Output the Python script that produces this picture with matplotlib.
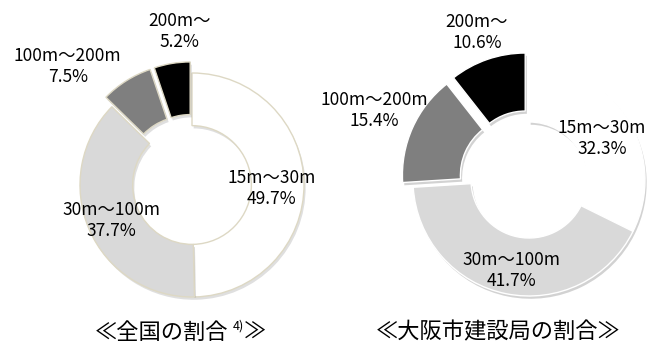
import numpy as np
import matplotlib
matplotlib.use("Agg")
import matplotlib.pyplot as plt
import matplotlib.patheffects as pe

plt.rcParams['font.family'] = ['Noto Sans CJK JP', 'DejaVu Sans']

# Height classes (clockwise from 12 o'clock)
categories = ["15m〜30m", "30m〜100m", "100m〜200m", "200m〜"]
national_pct = [49.7, 37.7, 7.5, 5.2]
osaka_pct = [32.3, 41.7, 15.4, 10.6]
titles = ["≪全国の割合", "≪大阪市建設局の割合≫"]

colors = ["#ffffff", "#d9d9d9", "#7f7f7f", "#000000"]

fig = plt.figure(figsize=(6.59, 3.47), dpi=100)
fig.patch.set_facecolor("white")

W, H = 659, 347
LIM = 1.6


def px_axes(cx, cy, r):
    """Axes whose data square [-LIM, LIM] sits around a centre given in pixels."""
    span = LIM * r
    ax = fig.add_axes([(cx - span) / W, 1 - (cy + span) / H, 2 * span / W, 2 * span / H])
    ax.axis("off")
    return ax


def donut(ax, values, explode, hole, edge, label_pos, shadow_alpha):
    shadow = [pe.SimplePatchShadow(offset=(1.2, -2.0), shadow_rgbFace="#808080",
                                   alpha=shadow_alpha),
              pe.Normal()]
    ax.pie(values, colors=colors, startangle=90, counterclock=False,
           explode=explode, radius=1.0,
           wedgeprops=dict(width=1 - hole, edgecolor=edge, linewidth=1.0,
                           path_effects=shadow))
    ax.set_xlim(-LIM, LIM)
    ax.set_ylim(-LIM, LIM)
    ax.set_aspect("equal")
    for cat, v, (lx, ly) in zip(categories, values, label_pos):
        ax.text(lx, ly, f"{cat}\n{v}%", ha="center", va="center", fontsize=12.5,
                color="#000000", linespacing=1.2, clip_on=False)


# National breakdown
ax1 = px_axes(192, 185, 112)
donut(ax1, national_pct, [0, 0, 0.1, 0.1], 0.53, "#ddd8c4",
      [(0.71, -0.03), (-0.72, -0.32), (-1.11, 1.06), (-0.11, 1.37)], 0.25)

# Osaka City breakdown
ax2 = px_axes(529, 180, 116)
donut(ax2, osaka_pct, [0, 0, 0.1, 0.1], 0.5, "#ffffff",
      [(0.63, 0.36), (-0.15, -0.78), (-1.33, 0.60), (-0.45, 1.27)], 0.35)

# Captions
ty = 1 - 332 / H
fig.text(228 / W, ty, titles[0], ha="right", va="center", fontsize=16)
fig.text(233 / W, 1 - 326 / H, "4)", ha="left", va="center", fontsize=9)
fig.text(244 / W, ty, "≫", ha="left", va="center", fontsize=16)
fig.text(498 / W, ty, titles[1], ha="center", va="center", fontsize=16)

fig.savefig("out.png", dpi=100, facecolor="white")
